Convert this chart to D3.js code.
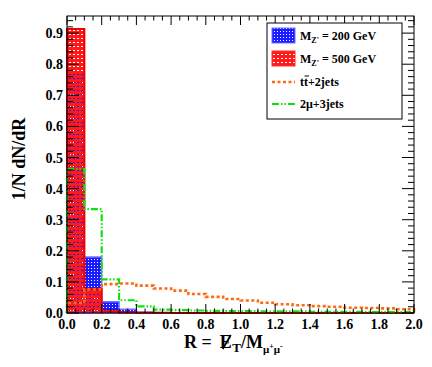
<!DOCTYPE html>
<html><head><meta charset="utf-8">
<script src="https://cdn.jsdelivr.net/npm/d3@7"></script>
<style>body{margin:0;background:#fff}svg{display:block}</style>
</head><body>
<svg id="c" width="432" height="367"></svg>
<script>
// bin edges: 20 bins of width 0.1 from 0 to 2.0
const binEdges = d3.range(0, 21).map(i => +(i * 0.1).toFixed(1));
const mz200 = [0.773, 0.180, 0.036, 0.012, 0.003, 0.001, 0, 0, 0, 0, 0, 0, 0, 0, 0, 0, 0, 0, 0, 0];
const mz500 = [0.913, 0.077, 0.006, 0.002, 0.001, 0.001, 0, 0, 0, 0, 0, 0, 0, 0, 0, 0, 0, 0, 0, 0];
const ttjets = [0.032, 0.076, 0.093, 0.095, 0.088, 0.079, 0.072, 0.061, 0.052, 0.045, 0.040, 0.033, 0.028, 0.025, 0.022, 0.020, 0.017, 0.016, 0.015, 0.012];
const mujets = [0.463, 0.334, 0.108, 0.041, 0.021, 0.011, 0.009, 0.008, 0.007, 0.006, 0.006, 0.005, 0.005, 0.005, 0.004, 0.004, 0.004, 0.003, 0.003, 0.003];
const xTickLabels = ["0.0","0.2","0.4","0.6","0.8","1.0","1.2","1.4","1.6","1.8","2.0"];
const yTickLabels = ["0.0","0.1","0.2","0.3","0.4","0.5","0.6","0.7","0.8","0.9"];
const legendLabels = ["200", "500", "tt+2jets", "2μ+3jets"];

const svg = d3.select("#c");
const x = d3.scaleLinear().domain([0, 2]).range([67, 414]);
const y = d3.scaleLinear().domain([0, 0.955]).range([313, 16]);
const serif = "'Liberation Serif', 'Times New Roman', serif";

const defs = svg.append("defs");
// blue pattern: blue with small transparent holes
const pb = defs.append("pattern").attr("id","pBlue").attr("patternUnits","userSpaceOnUse").attr("width",3).attr("height",3);
[[0,0,3,1],[0,1,1,1],[2,1,1,1],[0,2,3,1]].forEach(r => pb.append("rect").attr("x",r[0]).attr("y",r[1]).attr("width",r[2]).attr("height",r[3]).attr("fill","#1a1aff"));
// red pattern: red with transparent holes
const pr = defs.append("pattern").attr("id","pRed").attr("patternUnits","userSpaceOnUse").attr("width",4).attr("height",4);
[[0,0,4,2],[0,2,1,2],[3,2,1,2],[1,3,2,1]].forEach(r => pr.append("rect").attr("x",r[0]).attr("y",r[1]).attr("width",r[2]).attr("height",r[3]).attr("fill","#ff1a1a"));

const bins = (vals) => vals.map((v, i) => ({x0: binEdges[i], x1: binEdges[i+1], v}));
const stepPts = (vals) => {
  const pts = [];
  vals.forEach((v, i) => { pts.push([binEdges[i], v]); pts.push([binEdges[i+1], v]); });
  return [[0, 0], ...pts, [2, 0]];
};
const line = d3.line().x(d => x(d[0])).y(d => y(d[1]));

// blue bars
svg.append("g").selectAll("rect").data(bins(mz200).filter(d => d.v > 0)).join("rect")
  .attr("x", d => x(d.x0)).attr("width", d => x(d.x1) - x(d.x0))
  .attr("y", d => y(d.v)).attr("height", d => y(0) - y(d.v))
  .attr("fill", "url(#pBlue)").attr("stroke", "#7070ff").attr("stroke-width", 1.5);
// red bars
svg.append("g").selectAll("rect").data(bins(mz500).filter(d => d.v > 0)).join("rect")
  .attr("x", d => x(d.x0)).attr("width", d => x(d.x1) - x(d.x0))
  .attr("y", d => y(d.v)).attr("height", d => y(0) - y(d.v))
  .attr("fill", "url(#pRed)");
svg.append("path").attr("d", line(stepPts(mz500))).attr("fill","none").attr("stroke","#ee0000").attr("stroke-width",2);

// orange dotted line
svg.append("path").attr("d", line(stepPts(ttjets))).attr("fill","none")
  .attr("stroke","#ff6a10").attr("stroke-width",2.6).attr("stroke-dasharray","3,2.5");
// green dash-dot line
svg.append("path").attr("d", line(stepPts(mujets))).attr("fill","none")
  .attr("stroke","#10e010").attr("stroke-width",2.2).attr("stroke-dasharray","7,2,1.5,2,1.5,2");

// frame
const ax = svg.append("g").attr("stroke","#000").attr("stroke-width",1);
ax.append("rect").attr("x",67).attr("y",16).attr("width",347).attr("height",297).attr("fill","none");
// x ticks (bottom and top)
d3.range(0, 41).forEach(i => {
  const v = i * 0.05, X = x(v);
  const L = (i % 4 === 0) ? 9 : 4.5;
  ax.append("line").attr("x1",X).attr("x2",X).attr("y1",313).attr("y2",313-L);
  ax.append("line").attr("x1",X).attr("x2",X).attr("y1",16).attr("y2",16+L);
});
// y ticks (left and right)
d3.range(0, 48).forEach(i => {
  const v = i * 0.02; if (v > 0.955) return;
  const Y = y(v);
  const L = (i % 5 === 0) ? 12 : 6;
  ax.append("line").attr("x1",67).attr("x2",67+L).attr("y1",Y).attr("y2",Y);
  ax.append("line").attr("x1",414).attr("x2",414-L).attr("y1",Y).attr("y2",Y);
});

// tick labels
const lab = svg.append("g").attr("font-family", serif).attr("font-weight","bold").attr("font-size",14).attr("fill","#000");
xTickLabels.forEach((t) => lab.append("text").attr("x", x(+t)).attr("y", 329).attr("text-anchor","middle").text(t));
yTickLabels.forEach((t) => lab.append("text").attr("x", 63).attr("y", y(+t) + 5).attr("text-anchor","end").text(t));

// axis titles
svg.append("text").attr("transform","translate(25,159) rotate(-90)").attr("text-anchor","middle")
  .attr("font-family", serif).attr("font-weight","bold").attr("font-size",18).text("1/N dN/dR");

// x title built from pieces placed one after another
const xg = svg.append("g").attr("font-family", serif).attr("font-weight","bold");
let cx = 184;
const piece = (txt, size, dy, gap) => {
  const x0 = cx + (gap || 0);
  const t = xg.append("text").attr("x", x0).attr("y", 348 + dy).attr("font-size", size).text(txt);
  const w = t.node().getComputedTextLength();
  cx = x0 + w;
  return [x0, w];
};
piece("R =", 18, 0, 0);
const [ex, ew] = piece("E", 18, 0, 8);
xg.append("line").attr("x1", ex + 3).attr("x2", ex + ew - 1).attr("y1", 349).attr("y2", 335).attr("stroke","#000").attr("stroke-width",1.8);
piece("T", 13, 4, 0.5);
piece("/M", 18, 0, 0);
piece("μ", 11, 5, 0);
piece("+", 8, 1, 0);
piece("μ", 11, 5, 0);
piece("-", 8, 1, 0);

// legend
const lg = svg.append("g");
lg.append("rect").attr("x",267).attr("y",23).attr("width",135).attr("height",96).attr("fill","#fff").attr("stroke","#000").attr("stroke-width",1);
const ly = [36, 59, 82, 104];
lg.append("rect").attr("x",272).attr("y",ly[0]-8).attr("width",23).attr("height",15).attr("fill","url(#pBlue)").attr("stroke","#7070ff");
lg.append("rect").attr("x",272).attr("y",ly[1]-8).attr("width",23).attr("height",15).attr("fill","url(#pRed)").attr("stroke","#ff3030");
lg.append("line").attr("x1",272).attr("x2",295).attr("y1",ly[2]).attr("y2",ly[2]).attr("stroke","#ff6a10").attr("stroke-width",2.6).attr("stroke-dasharray","3,2.5");
lg.append("line").attr("x1",272).attr("x2",295).attr("y1",ly[3]).attr("y2",ly[3]).attr("stroke","#10e010").attr("stroke-width",2.2).attr("stroke-dasharray","7,2,1.5,2,1.5,2");
const lt = lg.append("g").attr("font-family", serif).attr("font-weight","bold").attr("font-size",12);
[0,1].forEach(k => {
  const t = lt.append("text").attr("x",300).attr("y",ly[k]+4);
  t.append("tspan").text("M");
  t.append("tspan").attr("font-size",8).attr("dy",3).text("Z'");
  t.append("tspan").attr("dy",-3).text(" = " + legendLabels[k] + " GeV");
});
{
  const t = lt.append("text").attr("x",300).attr("y",ly[2]+4);
  t.append("tspan").text("t");
  t.append("tspan").text("t");
  t.append("tspan").text(legendLabels[2].slice(2));
  // bar over second t
  lg.append("line").attr("x1",304.5).attr("x2",309).attr("y1",ly[2]-6).attr("y2",ly[2]-6).attr("stroke","#000").attr("stroke-width",1);
}
lt.append("text").attr("x",300).attr("y",ly[3]+4).text(legendLabels[3]);
</script>
</body></html>
